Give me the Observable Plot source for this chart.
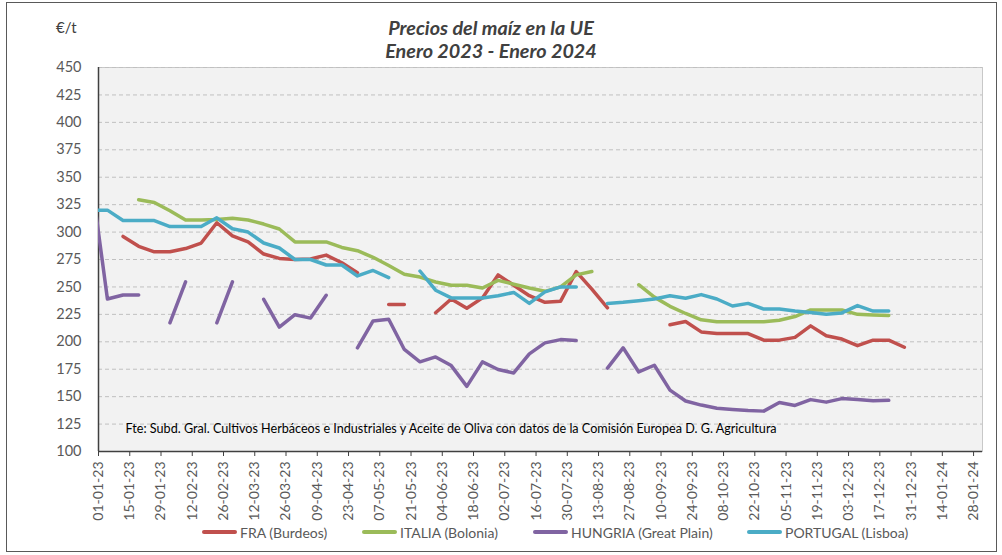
<!DOCTYPE html>
<html>
<head>
<meta charset="utf-8">
<script src="https://cdn.jsdelivr.net/npm/d3@7"></script>
<script src="https://cdn.jsdelivr.net/npm/@observablehq/plot@0.6"></script>
<style>
  html, body { margin: 0; padding: 0; background: #fff; }
  body { font-family: Lato, "Open Sans", sans-serif; }
  #wrap { position: relative; width: 1002px; height: 555px; overflow: hidden; }
  #outer { position: absolute; left: 6px; top: 2px; width: 991px; height: 550px; border: 1px solid #595959; box-sizing: border-box; pointer-events: none; }
  #chart { position: absolute; left: 0; top: 0; }
  .title { position: absolute; left: 0; width: 982px; text-align: center; font-weight: bold; font-style: italic; font-size: 19.8px; line-height: 22px; color: #404040; }
  #unit { position: absolute; left: 56px; top: 18px; font-size: 15px; line-height: 18px; color: #404040; }
  .leg { position: absolute; top: 522px; height: 20px; display: flex; align-items: center; font-size: 14px; color: #595959; white-space: nowrap; }
  .leg .sw { width: 35px; height: 4px; border-radius: 2px; margin-right: 3px; }
</style>
</head>
<body>
<div id="wrap">
  <div id="chart"></div>
  <div class="title" style="top:16px">Precios del maíz en la UE</div>
  <div class="title" style="top:39px">Enero 2023 - Enero 2024</div>
  <div id="unit">€/t</div>
  <div id="outer"></div>
</div>
<script>
// Weekly quotation dates (the first one falls before the axis start and is clipped)
const weeks = [
  "2022-12-29","2023-01-05","2023-01-12","2023-01-19","2023-01-26","2023-02-02","2023-02-09","2023-02-16",
  "2023-02-23","2023-03-02","2023-03-09","2023-03-16","2023-03-23","2023-03-30","2023-04-06","2023-04-13",
  "2023-04-20","2023-04-27","2023-05-04","2023-05-11","2023-05-18","2023-05-25","2023-06-01","2023-06-08",
  "2023-06-15","2023-06-22","2023-06-29","2023-07-06","2023-07-13","2023-07-20","2023-07-27","2023-08-03",
  "2023-08-10","2023-08-17","2023-08-24","2023-08-31","2023-09-07","2023-09-14","2023-09-21","2023-09-28",
  "2023-10-05","2023-10-12","2023-10-19","2023-10-26","2023-11-02","2023-11-09","2023-11-16","2023-11-23",
  "2023-11-30","2023-12-07","2023-12-14","2023-12-21","2023-12-28"
];

const fra = [null, null, 296, 287, 282, 282, 285, 290, 308.5, 296.5, 291, 280, 276, 275, 275.5, 279, 272, 263, null, 234, 234, null,
  226.5, 239, 230.5, 240, 261, 251.5, 242, 236, 237, 264, 248, 231, null, null, null, 215.5, 218.5, 209, 207.5, 207.5, 207.5,
  201.5, 201.5, 204, 214.5, 205.5, 202.5, 196.5, 201.5, 201.5, 195];

const ita = [null, null, null, 329.5, 327, 319.5, 311, 311, 311.5, 312.5, 311, 307.3, 302.8, 291, 291, 291, 286, 283, 277, 269.5, 261.5,
  259, 254.5, 251.5, 251.5, 249, 256, 252.5, 249, 246, 250, 261, 264, null, null, 252, 240.7, 232.3, 225.8, 220, 218.3, 218.3,
  218.3, 218.3, 219.7, 223, 229, 229, 229, 225, 224.5, 224, null];

const hun = [345, 239, 242.7, 242.7, null, 217.3, 254.6, null, 217.3, 254.6, null, 238.7, 213.4, 224.7, 221.6, 242.4, null, 194.5, 219,
  220.5, 193, 181.7, 186.2, 178.3, 159.4, 181.7, 174.7, 171.6, 189, 199, 202, 201.2, null, 176, 194.5, 172.5, 178.6, 156, 146,
  142.3, 139.5, 138.3, 137.3, 136.8, 144.6, 142, 147.3, 145, 148.2, 147.3, 146.3, 146.6, null];

const por = [320, 320, 310.5, 310.5, 310.5, 305, 305, 305, 313, 303, 300, 290, 285.5, 275, 275, 270, 270, 260, 265, 258.5, null, 264.5,
  247, 240, 240, 240, 242, 245, 235, 245.5, 250, 250, null, 235, 236, 237.5, 239, 242, 239.7, 243, 239, 232.6, 235, 229.8,
  229.8, 228, 226.7, 225, 226.3, 233, 228, 228, null];

const seriesNames = ["FRA (Burdeos)", "ITALIA (Bolonia)", "HUNGRIA (Great Plain)", "PORTUGAL (Lisboa)"];
const seriesColors = ["#c0504d", "#9bbb59", "#8064a2", "#4bacc6"];

const xTickLabels = ["01-01-23","15-01-23","29-01-23","12-02-23","26-02-23","12-03-23","26-03-23","09-04-23","23-04-23",
  "07-05-23","21-05-23","04-06-23","18-06-23","02-07-23","16-07-23","30-07-23","13-08-23","27-08-23","10-09-23",
  "24-09-23","08-10-23","22-10-23","05-11-23","19-11-23","03-12-23","17-12-23","31-12-23","14-01-24","28-01-24"];
const yTicks = [100, 125, 150, 175, 200, 225, 250, 275, 300, 325, 350, 375, 400, 425, 450];

const caption = "Fte: Subd. Gral. Cultivos Herbáceos e Industriales y Aceite de Oliva con datos de la Comisión Europea D. G. Agricultura";

// Build the long table for Plot
const parseTick = d3.utcParse("%d-%m-%y");
const xTicks = xTickLabels.map(parseTick);
const seriesValues = [fra, ita, hun, por];
const table = [];
seriesNames.forEach((name, k) => {
  weeks.forEach((w, i) => {
    table.push({ date: new Date(w + "T00:00:00Z"), value: seriesValues[k][i], series: name });
  });
});

const xStart = new Date("2023-01-01T00:00:00Z");
const xEnd = new Date("2024-02-01T00:00:00Z");
const font = "Lato, 'Open Sans', sans-serif";

const chart = Plot.plot({
  width: 1002,
  height: 555,
  marginLeft: 98,
  marginRight: 20,
  marginTop: 67,
  marginBottom: 104,
  style: { fontFamily: font, fontSize: "14px", color: "#595959", background: "transparent" },
  x: { type: "utc", domain: [xStart, xEnd] },
  y: { domain: [100, 450] },
  color: { domain: seriesNames, range: seriesColors },
  marks: [
    Plot.frame({ fill: "#f2f2f2", stroke: "#c8c8c8" }),
    Plot.ruleY(yTicks.filter(v => v > 100), { stroke: "#c0c0c0", strokeDasharray: "4,3", strokeWidth: 1 }),
    Plot.axisY({ ticks: yTicks, tickSize: 0, tickPadding: 17, label: null, tickFormat: d => d, fill: "#595959", fontSize: 14.5 }),
    Plot.axisX({ ticks: xTicks, tickFormat: d3.utcFormat("%d-%m-%y"), tickRotate: -90, tickSize: 5, tickPadding: 5,
      label: null, stroke: "#404040", fill: "#595959", fontSize: 14 }),
    Plot.ruleX([xStart], { stroke: "#404040", strokeWidth: 1.5 }),
    Plot.ruleY([100], { stroke: "#404040", strokeWidth: 1.5 }),
    Plot.line(table, { x: "date", y: "value", z: "series", stroke: "series", strokeWidth: 3.5,
      strokeLinejoin: "round", strokeLinecap: "round", clip: true }),
    Plot.text([caption], { text: d => d, frameAnchor: "bottom-left", dx: 27, dy: -23, textAnchor: "start",
      lineAnchor: "middle", fontSize: 12.6, fill: "#000" })
  ]
});
document.getElementById("chart").appendChild(chart);

// Legend
const legendLeft = [202, 362, 533, 747];
const wrap = document.getElementById("wrap");
seriesNames.forEach((name, k) => {
  const item = document.createElement("div");
  item.className = "leg";
  item.style.left = legendLeft[k] + "px";
  const sw = document.createElement("div");
  sw.className = "sw";
  sw.style.background = seriesColors[k];
  const tx = document.createElement("span");
  tx.textContent = name;
  item.appendChild(sw);
  item.appendChild(tx);
  wrap.appendChild(item);
});
</script>
</body>
</html>
